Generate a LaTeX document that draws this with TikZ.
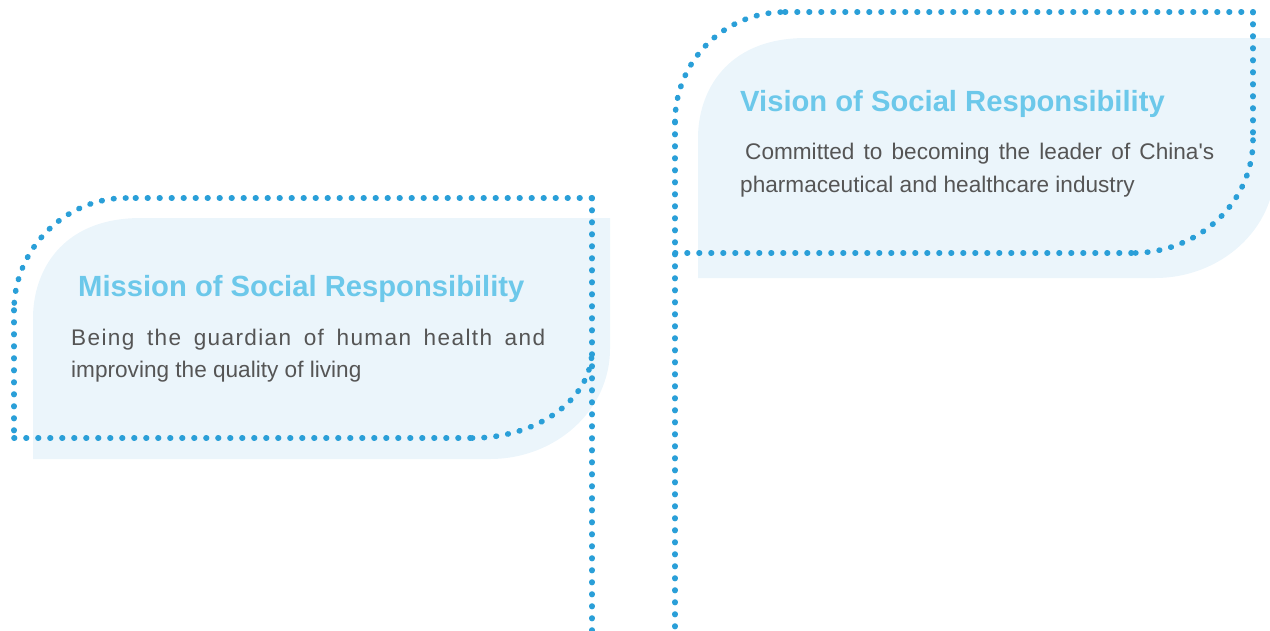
\documentclass[tikz,border=0pt]{standalone}
\usepackage{fontspec}
\setmainfont{Liberation Sans}
\definecolor{dotblue}{HTML}{2A9FD8}
\definecolor{boxfill}{HTML}{EBF5FB}
\definecolor{headblue}{HTML}{6CC8EA}
\definecolor{bodygray}{HTML}{555555}
\tikzset{
  dotline/.style={draw=dotblue, line width=5.6pt, line cap=round, dash pattern=on 0.6pt off 11.4pt},
  boxshape/.style={fill=boxfill, draw=none},
  headtext/.style={anchor=base west, inner sep=0pt, text=headblue, font=\fontsize{29.2}{34}\selectfont\bfseries},
  bodytext/.style={anchor=base west, inner sep=0pt, text=bodygray, font=\fontsize{22.6}{27}\selectfont},
}
\begin{document}
\begin{tikzpicture}[x=1pt,y=-1pt]
\useasboundingbox (0,0) rectangle (1270,630);
\clip (0,0) rectangle (1270,630);
% left filled box
\path[boxshape] (33,459) -- (33,318)
  .. controls (33,273) and (60,218) .. (141,218)
  -- (610,218) -- (610,349)
  .. controls (610,410) and (556,459) .. (490,459) -- cycle;
% right filled box
\path[boxshape] (698,278) -- (698,138)
  .. controls (698,93) and (725,38) .. (806,38)
  -- (1275,38) -- (1275,168)
  .. controls (1275,229) and (1221,278) .. (1155,278) -- cycle;
% left dotted outline
\draw[dotline] (592,198) -- (592,636);
\draw[dotline] (592,198) -- (126,198);
\draw[dotline] (126,198) .. controls (64,198) and (14,250) .. (14,310);
\draw[dotline] (14,310) -- (14,438);
\draw[dotline] (14,438) -- (472,438);
\draw[dotline] (472,438) .. controls (538,438) and (592,399) .. (592,350);
% right dotted outline
\draw[dotline] (675,122) -- (675,636);
\draw[dotline] (675,122) .. controls (675,61) and (724,12) .. (785,12);
\draw[dotline] (785,12) -- (1253,12);
\draw[dotline] (1253,12) -- (1253,140);
\draw[dotline] (1253,140) .. controls (1253,202) and (1199,253) .. (1133,253);
\draw[dotline] (675,253) -- (1133,253);
% texts
\node[headtext] (mh) at (78,296) {Mission of Social Responsibility};
\node[bodytext] (mb1) at (71,345) {\makebox[474pt][s]{\addfontfeatures{LetterSpace=6}Being the guardian of human health and}};
\node[bodytext] (mb2) at (71,377) {improving the quality of living};
\node[headtext] (vh) at (740,111) {Vision of Social Responsibility};
\node[bodytext] (vb1) at (745,159) {\makebox[469pt][s]{Committed to becoming the leader of China\textquotesingle s}};
\node[bodytext] (vb2) at (740,192) {pharmaceutical and healthcare industry};
\end{tikzpicture}
\end{document}
